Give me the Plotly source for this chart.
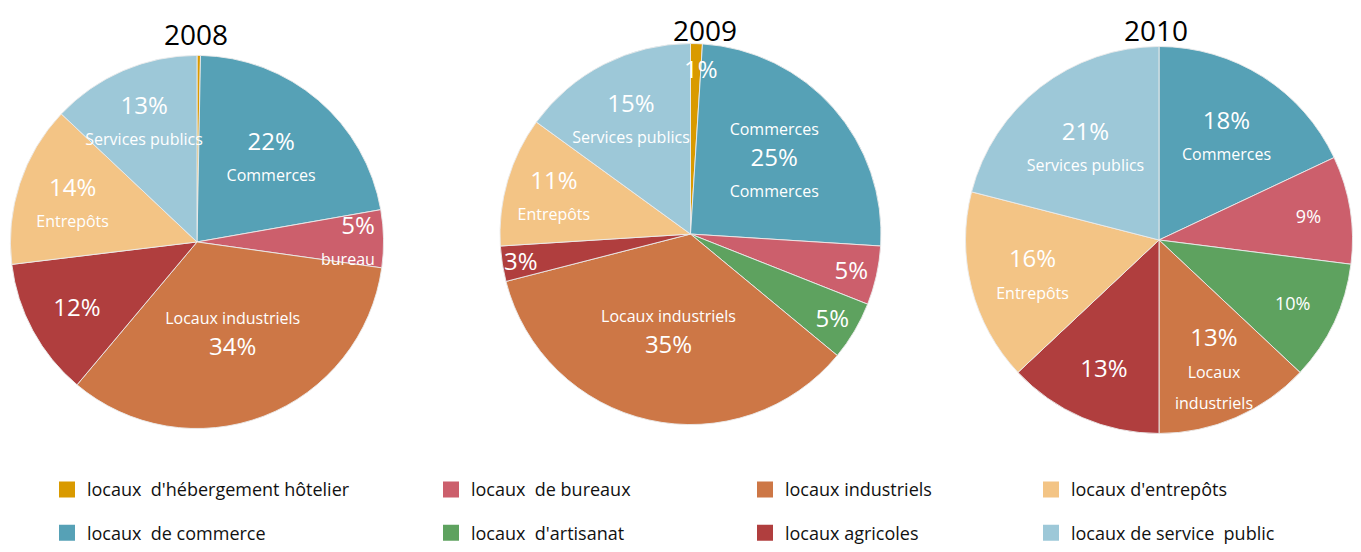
import math
import plotly.graph_objects as go

# the page body adds an 8px margin, so the figure sits 8px in from the corner
OFF = 8
W, H = 1361 - OFF, 552 - OFF

legend_labels = ["locaux  d'hébergement hôtelier", "locaux  de commerce",
                 "locaux  de bureaux", "locaux  d'artisanat",
                 "locaux industriels", "locaux agricoles",
                 "locaux d'entrepôts", "locaux de service  public"]
legend_cats = ["hebergement", "commerce", "bureaux", "artisanat",
               "industriels", "agricoles", "entrepots", "service_public"]
colors = {
    "hebergement": "#d99a00",
    "commerce": "#56a1b6",
    "bureaux": "#cc5f6c",
    "artisanat": "#5ea25f",
    "industriels": "#cd7746",
    "agricoles": "#b03e3e",
    "entrepots": "#f3c485",
    "service_public": "#9dc8d8",
}

years = ["2008", "2009", "2010"]

cats_2008 = ["hebergement", "commerce", "bureaux", "industriels", "agricoles", "entrepots", "service_public"]
vals_2008 = [0.3, 22, 5, 34, 12, 14, 13]
names_2008 = ["", "Commerces", "bureau", "Locaux industriels", "", "Entrepôts", "Services publics"]
pct_2008 = ["", "22%", "5%", "34%", "12%", "14%", "13%"]

cats_2009 = ["hebergement", "commerce", "bureaux", "artisanat", "industriels", "agricoles", "entrepots", "service_public"]
vals_2009 = [1, 25, 5, 5, 35, 3, 11, 15]
names_2009 = ["", "Commerces", "", "", "Locaux industriels", "", "Entrepôts", "Services publics"]
pct_2009 = ["1%", "25%", "5%", "5%", "35%", "3%", "11%", "15%"]

cats_2010 = ["commerce", "bureaux", "artisanat", "industriels", "agricoles", "entrepots", "service_public"]
vals_2010 = [18, 9, 10, 13, 13, 16, 21]
names_2010 = ["Commerces", "", "", "Locaux<br>industriels", "", "Entrepôts", "Services publics"]
pct_2010 = ["18%", "9%", "10%", "13%", "13%", "16%", "21%"]


def span(s, size):
    return f"<span style='font-size:{size}px'>{s}</span>" if s else ""


def build_text(pcts, names, name_first=(), small_pct=()):
    out = []
    for i, (p, n) in enumerate(zip(pcts, names)):
        ps = span(p, 18 if i in small_pct else 24)
        ns = span(n, 16)
        parts = [ns, ps] if (i in name_first and n) else [ps, ns]
        out.append("<br>".join([x for x in parts if x]))
    return out


text_2008 = build_text(pct_2008, names_2008, name_first=(3,))
text_2009 = build_text(pct_2009, names_2009, name_first=(4,))
text_2009[1] = span("Commerces", 16) + "<br>" + span("25%", 24) + "<br>" + span("Commerces", 16)
text_2010 = build_text(pct_2010, names_2010, small_pct=(1, 2))

# slices too thin for an inside label: (pie index, slice index, radius fraction, angle point 0..1 within slice)
thin = [(0, 2, 0.80, 0.5), (1, 0, 0.87, 1.0), (1, 5, 0.89, 0.5)]
all_text = [text_2008, text_2009, text_2010]
all_vals = [vals_2008, vals_2009, vals_2010]
thin_text = []
for p, s, f, a in thin:
    thin_text.append(all_text[p][s])
    all_text[p][s] = ""

# pie geometry in figure pixels: center x, center y, radius
pies = [(189, 237, 189), (682.5, 229, 193), (1151, 235, 196)]
# title text positions (centre x, top y) in figure pixels
title_pos = [(187.5, 5), (697, 1), (1147.5, 1)]

fig = go.Figure()
for year, cats, vals, txt, (cx, cy, rad), (tx, ty) in zip(
        years, [cats_2008, cats_2009, cats_2010], all_vals,
        all_text, pies, title_pos):
    fig.add_trace(go.Pie(
        labels=cats, values=vals, text=txt,
        textinfo="text", textposition="inside",
        insidetextorientation="horizontal",
        sort=False, direction="clockwise", rotation=0,
        marker=dict(colors=[colors[c] for c in cats],
                    line=dict(color="rgba(235,235,235,0.9)", width=1)),
        textfont=dict(family="Open Sans", color="white", size=24),
        domain=dict(x=[(cx - rad) / W, (cx + rad) / W],
                    y=[1 - (cy + rad) / H, 1 - (cy - rad) / H]),
        showlegend=False, hoverinfo="label+percent",
    ))
    fig.add_annotation(
        x=tx / W, y=1 - ty / H, xref="paper", yref="paper", text=year,
        showarrow=False, xanchor="center", yanchor="top",
        font=dict(family="Open Sans", size=28, color="black"),
    )

# labels of the thin slices, placed along the slice angle derived from the values
for (p, s, f, a), txt in zip(thin, thin_text):
    vals = all_vals[p]
    cx, cy, rad = pies[p]
    frac = (sum(vals[:s]) + a * vals[s]) / sum(vals)
    ang = 2 * math.pi * frac
    fig.add_annotation(
        x=(cx + f * rad * math.sin(ang)) / W,
        y=1 - (cy - f * rad * math.cos(ang)) / H,
        xref="paper", yref="paper", text=txt, showarrow=False,
        xanchor="center", yanchor="middle", align="right",
        font=dict(family="Open Sans", size=24, color="white"),
    )

col_x = [39, 423, 737, 1023]
row_y = [488, 532]
for i, (cat, lab) in enumerate(zip(legend_cats, legend_labels)):
    col, row = i // 2, i % 2
    name = "legend" if i == 0 else f"legend{i + 1}"
    fig.add_trace(go.Scatter(
        x=[None], y=[None], mode="markers", name=lab,
        marker=dict(symbol="square", size=16, color=colors[cat]),
        legend=name, showlegend=True,
    ))
    fig.update_layout({name: dict(
        x=col_x[col] / W, y=1 - row_y[row] / H, xanchor="left", yanchor="middle",
        bgcolor="rgba(0,0,0,0)", font=dict(family="Open Sans", size=18, color="#111"),
    )})

fig.update_layout(
    width=W, height=H, margin=dict(l=0, r=0, t=0, b=0),
    paper_bgcolor="white", plot_bgcolor="white",
    xaxis=dict(visible=False), yaxis=dict(visible=False),
    uniformtext=dict(minsize=24, mode="show"),
)

fig.write_html("out.html")
